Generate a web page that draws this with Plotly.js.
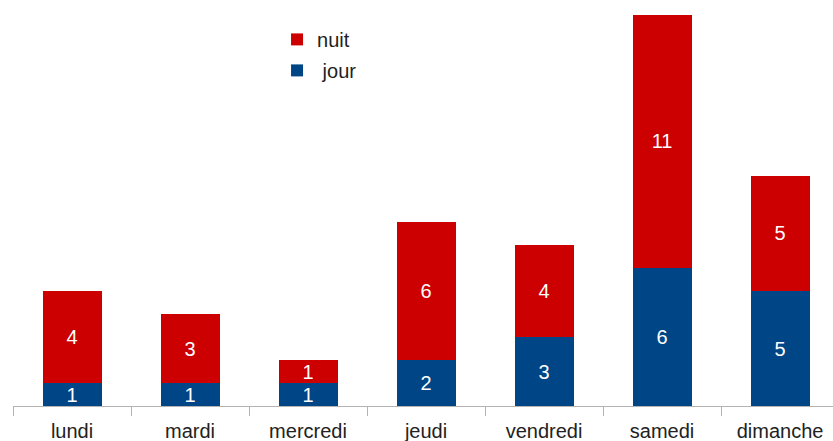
<!DOCTYPE html>
<html>
<head>
<meta charset="utf-8">
<script src="https://cdn.plot.ly/plotly-3.0.1.min.js"></script>
<style>html,body{margin:0;padding:0;overflow:hidden;background:#fff}#chart{width:833px;height:441px}</style>
</head>
<body>
<div id="chart"></div>
<script>
var categories = ["lundi", "mardi", "mercredi", "jeudi", "vendredi", "samedi", "dimanche"];
var jour = [1, 1, 1, 2, 3, 6, 5];
var nuit = [4, 3, 1, 6, 4, 11, 5];

var font = "Liberation Sans, Arial, sans-serif";
var traces = [
  {type: "bar", name: " jour", x: categories, y: jour, text: jour.map(String),
   textposition: "inside", insidetextanchor: "middle", textangle: 0, constraintext: "none",
   textfont: {color: "#ffffff", size: 20, family: font},
   marker: {color: "#004586"}, legendgroup: "a", legendrank: 2, hoverinfo: "none"},
  {type: "bar", name: "nuit", x: categories, y: nuit, text: nuit.map(String),
   textposition: "inside", insidetextanchor: "middle", textangle: 0, constraintext: "none",
   textfont: {color: "#ffffff", size: 20, family: font},
   marker: {color: "#cc0000"}, legendgroup: "b", legendrank: 1, hoverinfo: "none"}
];
var layout = {
  width: 833, height: 441,
  margin: {l: 13, r: 0, t: 10, b: 35},
  barmode: "stack", bargap: 0.5,
  uniformtext: {mode: false},
  paper_bgcolor: "#ffffff", plot_bgcolor: "#ffffff",
  font: {family: font, size: 20, color: "#222222"},
  showlegend: true,
  legend: {x: 0.322, y: 0.975, xanchor: "left", yanchor: "top", traceorder: "grouped",
           tracegroupgap: 2, font: {size: 20, color: "#222222", family: font}, bgcolor: "rgba(0,0,0,0)"},
  xaxis: {type: "category", range: [-0.5, 6.449], tickson: "boundaries", ticks: "outside",
          ticklen: 9, tickcolor: "#b3b3b3", tickwidth: 1, showline: true, linecolor: "#b3b3b3",
          linewidth: 1, showgrid: false, ticklabelstandoff: 7,
          tickfont: {size: 20, color: "#222222"}, fixedrange: true},
  yaxis: {range: [0, 17.217], visible: false, showgrid: false, zeroline: false, fixedrange: true}
};
Plotly.newPlot("chart", traces, layout, {staticPlot: true, displayModeBar: false});
</script>
</body>
</html>
